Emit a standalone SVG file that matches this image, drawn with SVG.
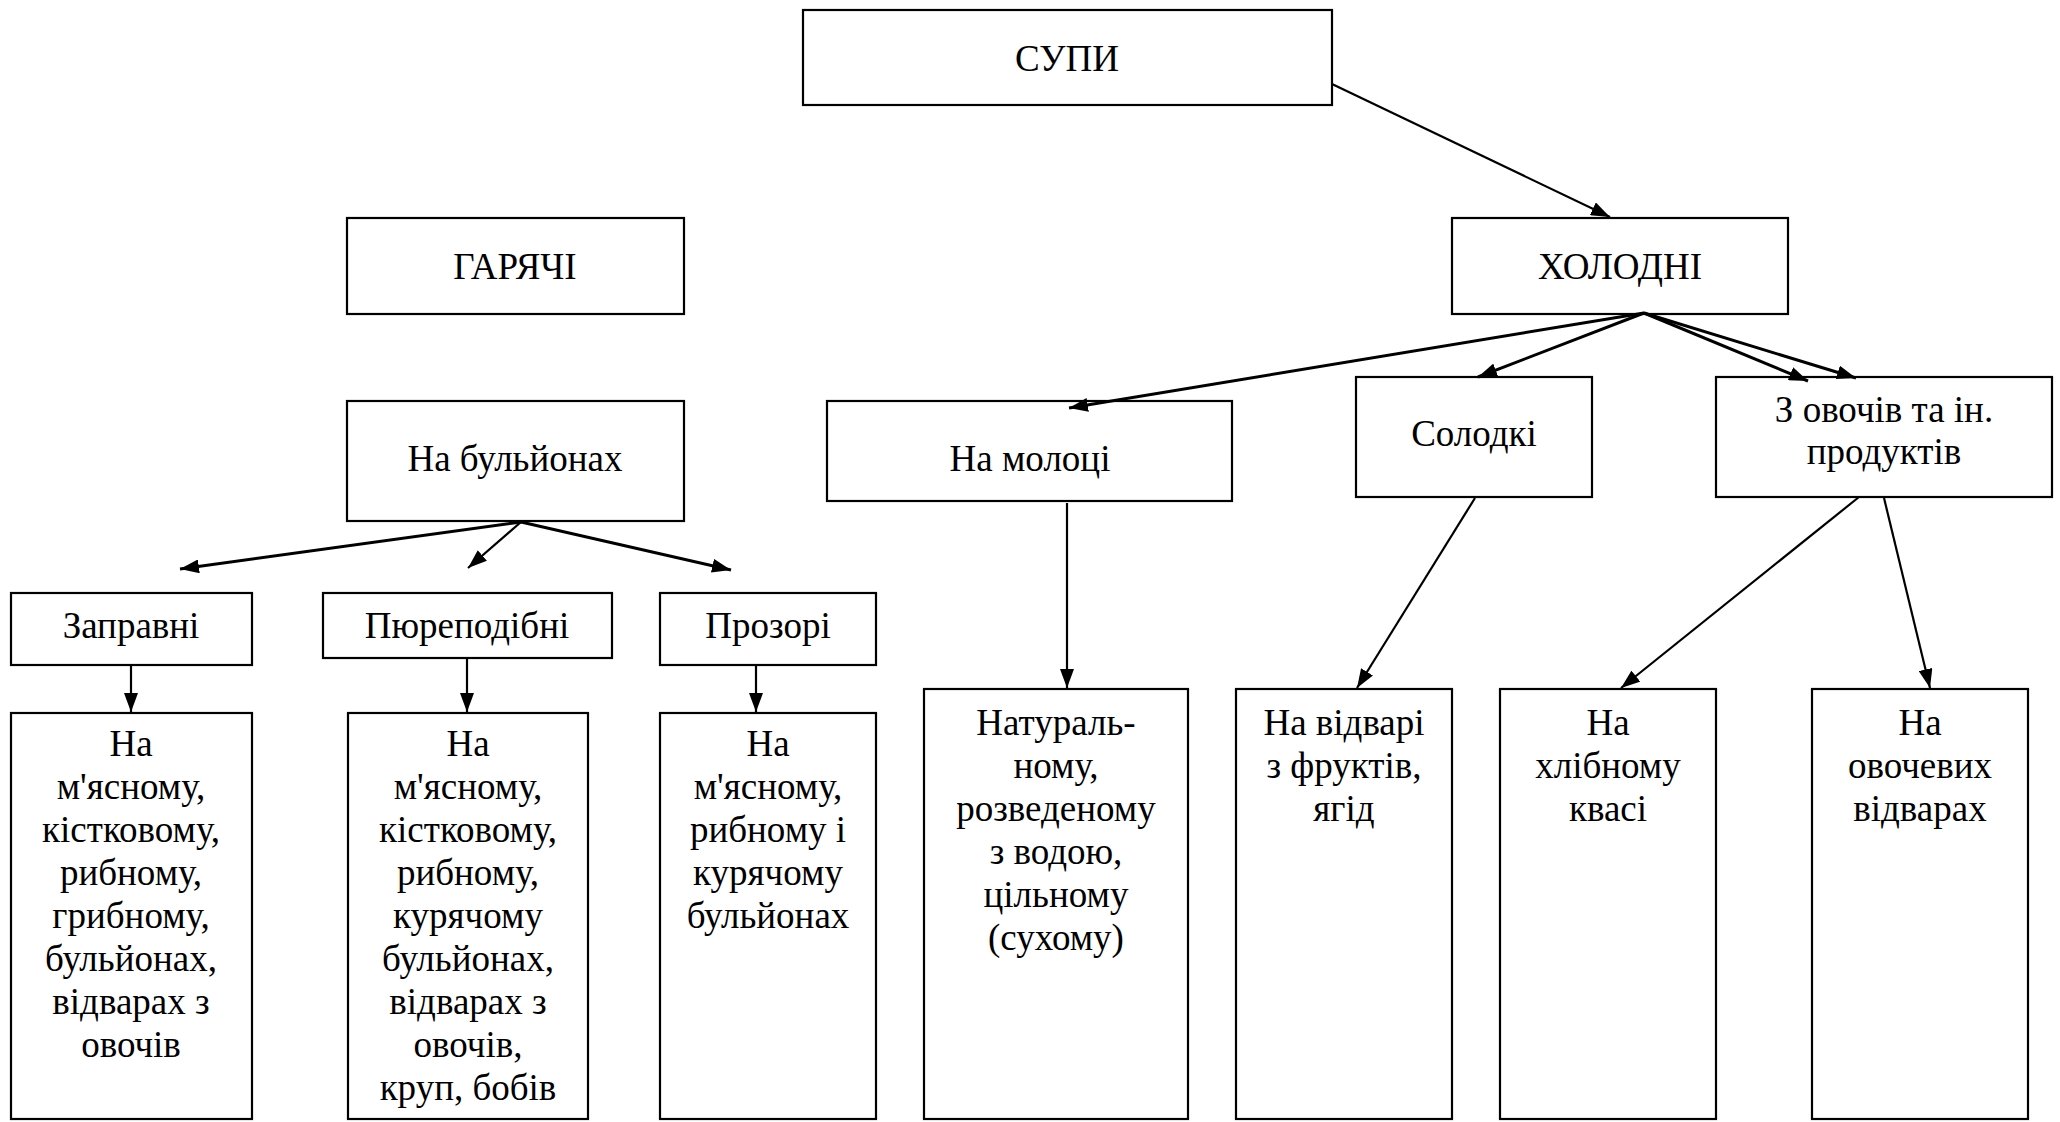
<svg xmlns="http://www.w3.org/2000/svg" width="2060" height="1122" viewBox="0 0 2060 1122">
<style>
  .box { fill: #ffffff; stroke: #000000; stroke-width: 2.2; }
  .t { font-family: "Liberation Serif", "Times New Roman", serif; font-size: 37px; fill: #000000; text-anchor: middle; }
  .c { stroke: #000000; stroke-width: 2.2; fill: none; marker-end: url(#ah); }
  .cb { stroke: #000000; stroke-width: 3; fill: none; marker-end: url(#ah); }
</style>
<defs>
  <marker id="ah" markerUnits="userSpaceOnUse" markerWidth="20" markerHeight="14" refX="19" refY="7" orient="auto">
    <path d="M0,0 L19,7 L0,14 z" fill="#000000"/>
  </marker>
</defs>
<rect x="0" y="0" width="2060" height="1122" fill="#ffffff"/>

<g id="supy">
  <rect class="box" x="803" y="10" width="529" height="95"/>
  <text class="t" x="1067" y="71">СУПИ</text>
</g>
<g id="hot">
  <rect class="box" x="347" y="218" width="337" height="96"/>
  <text class="t" x="515" y="279">ГАРЯЧІ</text>
</g>
<g id="cold">
  <rect class="box" x="1452" y="218" width="336" height="96"/>
  <text class="t" x="1620" y="279">ХОЛОДНІ</text>
</g>
<g id="broth">
  <rect class="box" x="347" y="401" width="337" height="120"/>
  <text class="t" x="515" y="471">На бульйонах</text>
</g>
<g id="milk">
  <rect class="box" x="827" y="401" width="405" height="100"/>
  <text class="t" x="1030" y="471">На молоці</text>
</g>
<g id="sweet">
  <rect class="box" x="1356" y="377" width="236" height="120"/>
  <text class="t" x="1474" y="446">Солодкі</text>
</g>
<g id="veg">
  <rect class="box" x="1716" y="377" width="336" height="120"/>
  <text class="t" x="1884" y="422">З овочів та ін.</text>
  <text class="t" x="1884" y="464">продуктів</text>
</g>
<g id="zapravni">
  <rect class="box" x="11" y="593" width="241" height="72"/>
  <text class="t" x="131" y="638">Заправні</text>
</g>
<g id="pure">
  <rect class="box" x="323" y="593" width="289" height="65"/>
  <text class="t" x="467" y="638">Пюреподібні</text>
</g>
<g id="prozori">
  <rect class="box" x="660" y="593" width="216" height="72"/>
  <text class="t" x="768" y="638">Прозорі</text>
</g>
<g id="zapravni-content">
  <rect class="box" x="11" y="713" width="241" height="406"/>
  <text class="t" x="131" y="756">На</text>
  <text class="t" x="131" y="799">м'ясному,</text>
  <text class="t" x="131" y="842">кістковому,</text>
  <text class="t" x="131" y="885">рибному,</text>
  <text class="t" x="131" y="928">грибному,</text>
  <text class="t" x="131" y="971">бульйонах,</text>
  <text class="t" x="131" y="1014">відварах з</text>
  <text class="t" x="131" y="1057">овочів</text>
</g>
<g id="pure-content">
  <rect class="box" x="348" y="713" width="240" height="406"/>
  <text class="t" x="468" y="756">На</text>
  <text class="t" x="468" y="799">м'ясному,</text>
  <text class="t" x="468" y="842">кістковому,</text>
  <text class="t" x="468" y="885">рибному,</text>
  <text class="t" x="468" y="928">курячому</text>
  <text class="t" x="468" y="971">бульйонах,</text>
  <text class="t" x="468" y="1014">відварах з</text>
  <text class="t" x="468" y="1057">овочів,</text>
  <text class="t" x="468" y="1100">круп, бобів</text>
</g>
<g id="prozori-content">
  <rect class="box" x="660" y="713" width="216" height="406"/>
  <text class="t" x="768" y="756">На</text>
  <text class="t" x="768" y="799">м'ясному,</text>
  <text class="t" x="768" y="842">рибному і</text>
  <text class="t" x="768" y="885">курячому</text>
  <text class="t" x="768" y="928">бульйонах</text>
</g>
<g id="natur">
  <rect class="box" x="924" y="689" width="264" height="430"/>
  <text class="t" x="1056" y="735">Натураль-</text>
  <text class="t" x="1056" y="778">ному,</text>
  <text class="t" x="1056" y="821">розведеному</text>
  <text class="t" x="1056" y="864">з водою,</text>
  <text class="t" x="1056" y="907">цільному</text>
  <text class="t" x="1056" y="950">(сухому)</text>
</g>
<g id="vidvari">
  <rect class="box" x="1236" y="689" width="216" height="430"/>
  <text class="t" x="1344" y="735">На відварі</text>
  <text class="t" x="1344" y="778">з фруктів,</text>
  <text class="t" x="1344" y="821">ягід</text>
</g>
<g id="khlib">
  <rect class="box" x="1500" y="689" width="216" height="430"/>
  <text class="t" x="1608" y="735">На</text>
  <text class="t" x="1608" y="778">хлібному</text>
  <text class="t" x="1608" y="821">квасі</text>
</g>
<g id="ovoch">
  <rect class="box" x="1812" y="689" width="216" height="430"/>
  <text class="t" x="1920" y="735">На</text>
  <text class="t" x="1920" y="778">овочевих</text>
  <text class="t" x="1920" y="821">відварах</text>
</g>

<g id="connectors">
  <line class="c" x1="1332" y1="84" x2="1610" y2="217"/>
  <line class="cb" x1="521" y1="522" x2="180" y2="569"/>
  <line class="c" x1="521" y1="522" x2="468" y2="568"/>
  <line class="cb" x1="521" y1="522" x2="731" y2="570"/>
  <line class="c" x1="131" y1="665" x2="131" y2="712"/>
  <line class="c" x1="467" y1="658" x2="467" y2="712"/>
  <line class="c" x1="756" y1="665" x2="756" y2="712"/>
  <line class="cb" x1="1644" y1="313" x2="1069" y2="408"/>
  <line class="cb" x1="1644" y1="313" x2="1478" y2="377"/>
  <line class="cb" x1="1644" y1="313" x2="1808" y2="381"/>
  <line class="cb" x1="1644" y1="313" x2="1856" y2="378"/>
  <line class="c" x1="1067" y1="503" x2="1067" y2="688"/>
  <line class="c" x1="1475" y1="498" x2="1357" y2="688"/>
  <line class="c" x1="1859" y1="497" x2="1621" y2="688"/>
  <line class="c" x1="1884" y1="498" x2="1930" y2="688"/>
</g>
</svg>
